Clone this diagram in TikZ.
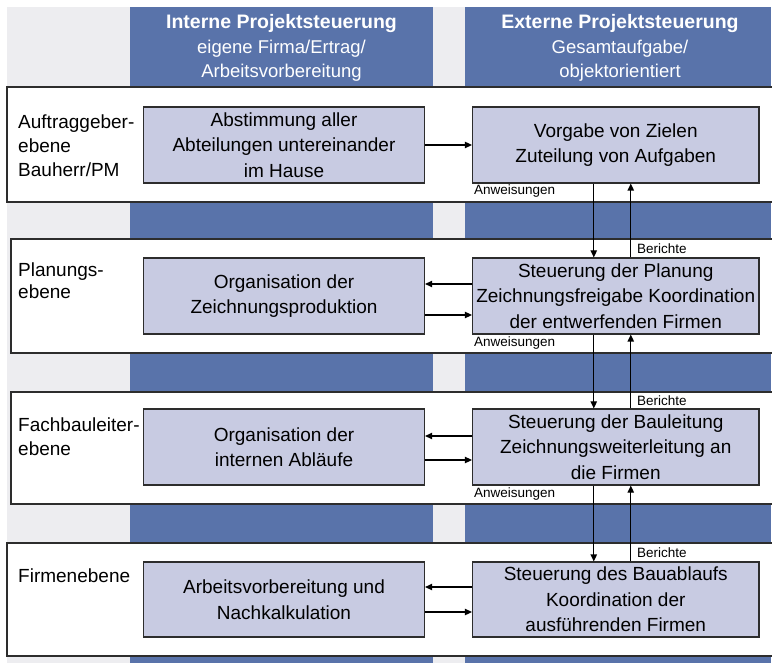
\documentclass[tikz,border=0pt]{standalone}
\usepackage{fontspec}
\setmainfont{Liberation Sans}
\usetikzlibrary{arrows.meta}
\definecolor{bggray}{RGB}{237,237,240}
\definecolor{colblue}{RGB}{89,115,170}
\definecolor{boxfill}{RGB}{200,203,226}
\definecolor{edgecol}{RGB}{45,45,45}
\begin{document}
\begin{tikzpicture}[x=1pt,y=-1pt,
  box/.style={draw=edgecol,line width=1.3pt,fill=boxfill,minimum height=76pt,align=center,
    font=\fontsize{19}{25.5}\selectfont,inner sep=0pt},
  lbox/.style={box,minimum width=281pt},
  rbox/.style={box,minimum width=286.5pt},
  arr/.style={line width=1.3pt,draw=black,-{Triangle[length=7pt,width=6.5pt]}},
  band/.style={draw=edgecol,line width=1.3pt,fill=white},
  small/.style={font=\fontsize{13.5}{15}\selectfont,inner sep=0pt,anchor=west},
  rowlabel/.style={anchor=base west,align=left,inner sep=0pt,font=\fontsize{19}{24}\selectfont},
  header/.style={text=white,align=center,inner sep=0pt,font=\fontsize{18.5}{24.5}\selectfont}]
\useasboundingbox (0,0) rectangle (772,663);
\clip (0,0) rectangle (772,663);
% background and columns
\fill[bggray] (7,7) rectangle (771,663);
\fill[colblue] (130,7) rectangle (433,663);
\fill[colblue] (465,7) rectangle (771,663);
% level bands
\draw[band] (7,87) rectangle (790,202);
\draw[band] (11,239) rectangle (790,353);
\draw[band] (11,392) rectangle (790,504);
\draw[band] (7,543) rectangle (790,656);
% headers
\node[header] (hl) at (281.5,48) {{\fontsize{19.5}{24.5}\selectfont\bfseries Interne Projektsteuerung}\\eigene Firma/Ertrag/\\Arbeitsvorbereitung};
\node[header] (hr) at (620,48) {{\fontsize{19.5}{24.5}\selectfont\bfseries Externe Projektsteuerung}\\Gesamtaufgabe/\\objektorientiert};
% row labels (anchored at the baseline of their last line)
\node[rowlabel] (rl1) at (18,177) {Auftraggeber-\\ebene\\Bauherr/PM};
\node[rowlabel,font=\fontsize{19}{22.5}\selectfont] (rl2) at (18,299) {Planungs-\\ebene};
\node[rowlabel] (rl3) at (18,455) {Fachbauleiter-\\ebene};
\node[rowlabel] (rl4) at (18,582) {Firmenebene};
% boxes
\node[lbox] (L1) at (284,145) {Abstimmung aller\\Abteilungen untereinander\\im Hause};
\node[rbox] (R1) at (615.75,145) {Vorgabe von Zielen\\Zuteilung von Aufgaben};
\node[lbox] (L2) at (284,296) {Organisation der\\Zeichnungsproduktion};
\node[rbox] (R2) at (615.75,296) {Steuerung der Planung\\Zeichnungsfreigabe Koordination\\der entwerfenden Firmen};
\node[lbox] (L3) at (284,447) {Organisation der\\internen Abläufe};
\node[rbox] (R3) at (615.75,447) {Steuerung der Bauleitung\\Zeichnungsweiterleitung an\\die Firmen};
\node[lbox,minimum height=75pt] (L4) at (284,599.5) {Arbeitsvorbereitung und\\Nachkalkulation};
\node[rbox,minimum height=75pt] (R4) at (615.75,599.5) {Steuerung des Bauablaufs\\Koordination der\\ausführenden Firmen};
% horizontal connectors
\draw[arr] (L1) -- (R1);
\draw[arr] ([yshift=12pt]R2.west) -- ([yshift=12pt]L2.east);
\draw[arr] ([yshift=-19pt]L2.east) -- ([yshift=-19pt]R2.west);
\draw[arr] ([yshift=11pt]R3.west) -- ([yshift=11pt]L3.east);
\draw[arr] ([yshift=-13pt]L3.east) -- ([yshift=-13pt]R3.west);
\draw[arr] ([yshift=12.5pt]R4.west) -- ([yshift=12.5pt]L4.east);
\draw[arr] ([yshift=-12.5pt]L4.east) -- ([yshift=-12.5pt]R4.west);
% vertical connectors
\draw[arr] ([xshift=-22pt]R1.south) -- ([xshift=-22pt]R2.north);
\draw[arr] ([xshift=15pt]R2.north) -- ([xshift=15pt]R1.south);
\draw[arr] ([xshift=-22pt]R2.south) -- ([xshift=-22pt]R3.north);
\draw[arr] ([xshift=15pt]R3.north) -- ([xshift=15pt]R2.south);
\draw[arr] ([xshift=-22pt]R3.south) -- ([xshift=-22pt]R4.north);
\draw[arr] ([xshift=15pt]R4.north) -- ([xshift=15pt]R3.south);
% connector labels
\node[small] (an1) at (474,191) {Anweisungen};
\node[small] (an2) at (474,343) {Anweisungen};
\node[small] (an3) at (474,494) {Anweisungen};
\node[small] (be1) at (637,249) {Berichte};
\node[small] (be2) at (637,401) {Berichte};
\node[small] (be3) at (637,553) {Berichte};
\end{tikzpicture}
\end{document}
